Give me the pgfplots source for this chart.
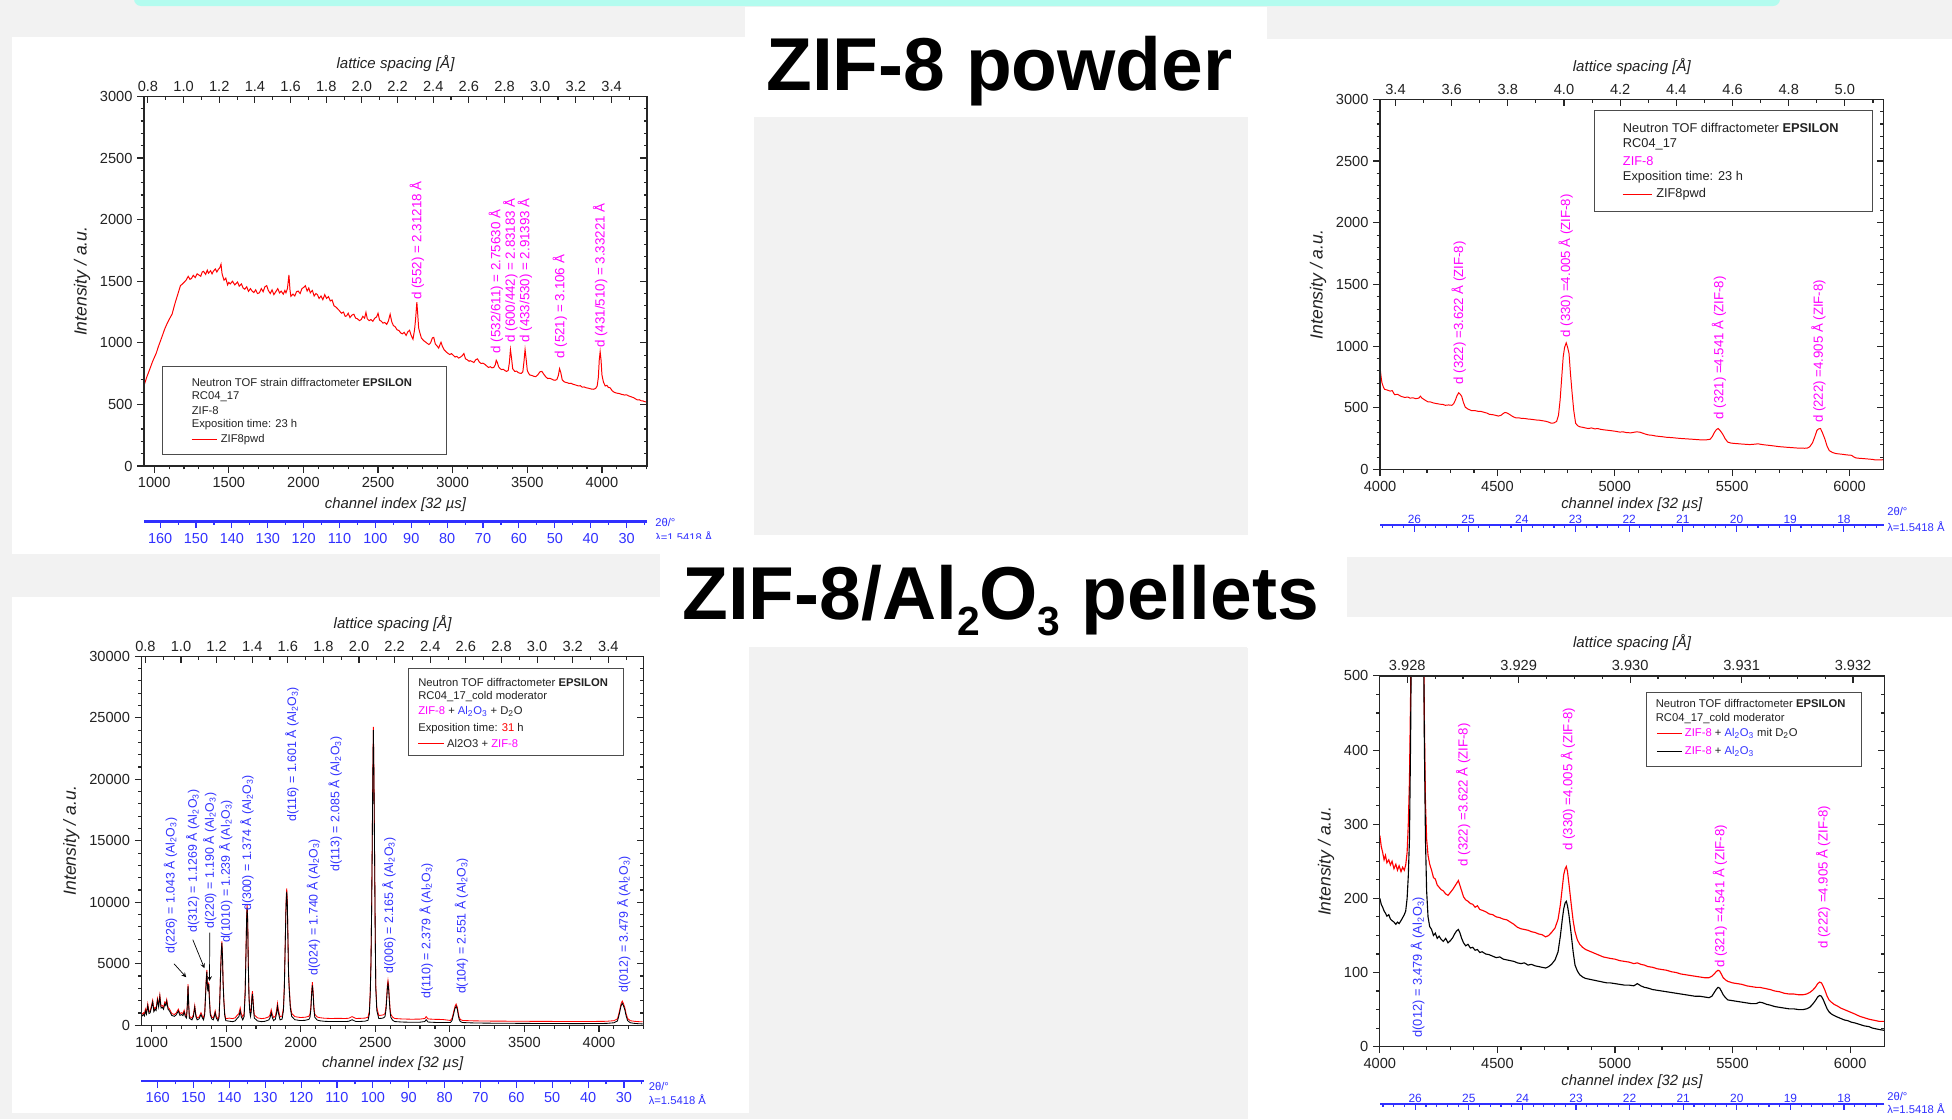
\documentclass[border=0pt]{standalone}
\usepackage{fontspec}
\setmainfont{Liberation Sans}
\usepackage{pgfplots}
\pgfplotsset{compat=1.18}
\usepackage{pgfplotstable}

\definecolor{bggray}{HTML}{F2F2F2}
\definecolor{cyanbar}{HTML}{B3FCEF}
\definecolor{mag}{HTML}{FF00FF}
\definecolor{annblue}{HTML}{3333FF}
\definecolor{axblue}{HTML}{3030FF}
\definecolor{txt}{HTML}{222222}

\newcommand\fsz[1]{\fontsize{#1pt}{#1pt}\selectfont}
\newcommand\alo{Al\textsubscript{2}O\textsubscript{3}}

\pgfplotsset{
  mainax/.style={scale only axis, xtick pos=left, ytick pos=left, tick align=outside,
    axis line style={black!85, line width=0.9pt},
    tick style={black!85, line width=0.8pt},
    major tick length=4.7pt, minor tick length=2.4pt,
    tick label style={font=\fsz{10.4}, text=txt},
    xlabel style={font=\fsz{10.6}\itshape, text=txt},
    ylabel style={font=\fsz{12.5}\itshape, text=txt},
    /pgf/number format/assume math mode=true,
    /pgf/number format/1000 sep={},
    scaled ticks=false, minor x tick num=4},
  topax/.style={scale only axis, xtick pos=right, ytick pos=right, tick align=inside,
    xticklabel pos=right, yticklabels={}, scaled ticks=false,
    axis line style={black!85, line width=0.9pt},
    tick style={black!85, line width=0.8pt},
    major tick length=4.7pt, minor tick length=2.4pt,
    tick label style={font=\fsz{10.4}, text=txt},
    xlabel style={font=\fsz{10.7}\itshape, text=txt},
    /pgf/number format/assume math mode=true},
  ttax/.style={scale only axis, height=1mm, hide y axis, x dir=reverse, ymin=0, ymax=1,
    axis line style={axblue, line width=1.6pt},
    tick style={axblue, line width=0.8pt},
    major tick length=4.8pt, minor tick length=2.4pt,
    tick label style={text=axblue},
    /pgf/number format/assume math mode=true},
  ttbot/.style={ttax, axis x line*=bottom, xtick pos=left, xticklabel pos=left, tick align=outside},
  tttop/.style={ttax, axis x line*=top, xtick pos=right, xticklabel pos=right, tick align=inside,
    xticklabel style={yshift=-2.5pt}},
}
\tikzset{
  ann/.style={rotate=90, anchor=west, inner sep=0pt},
  leg/.style={anchor=west, inner sep=0pt, text=txt},
}

\begin{document}

\pgfplotstableread{
x y
932 652
950 720
974 797
990 850
1013 913
1030 975
1055 1058
1070 1110
1088 1160
1105 1200
1120 1232
1135 1300
1143 1334
1160 1400
1176 1464
1190 1478
1202 1493
1215 1510
1228 1540
1240 1515
1250 1522
1262 1548
1275 1530
1288 1560
1299 1551
1312 1540
1322 1575
1331 1580
1345 1555
1356 1590
1364 1565
1378 1585
1388 1560
1396 1580
1410 1600
1420 1575
1429 1594
1440 1610
1448 1638
1455 1560
1468 1508
1480 1525
1492 1470
1500 1490
1510 1478
1525 1500
1540 1470
1559 1493
1570 1460
1585 1478
1596 1445
1607 1435
1620 1455
1632 1418
1645 1440
1656 1420
1668 1408
1680 1430
1692 1400
1705 1406
1718 1440
1730 1415
1742 1455
1754 1464
1765 1425
1778 1400
1790 1430
1802 1391
1815 1415
1828 1440
1840 1405
1851 1420
1865 1395
1876 1425
1883 1406
1893 1440
1903 1551
1910 1430
1916 1377
1930 1395
1942 1380
1954 1415
1965 1420
1978 1400
1990 1440
2002 1450
2013 1464
2025 1420
2036 1445
2046 1406
2060 1425
2072 1380
2084 1400
2094 1391
2105 1360
2118 1380
2130 1350
2143 1391
2155 1360
2168 1375
2180 1340
2192 1348
2205 1300
2218 1290
2230 1275
2241 1261
2255 1240
2268 1250
2280 1215
2289 1218
2300 1240
2312 1205
2325 1225
2338 1232
2350 1200
2362 1195
2375 1180
2387 1189
2398 1215
2410 1200
2419 1247
2428 1195
2440 1180
2452 1189
2465 1175
2478 1200
2490 1210
2500 1240
2510 1185
2522 1175
2533 1160
2545 1165
2558 1150
2570 1180
2581 1232
2592 1170
2603 1140
2614 1131
2628 1105
2640 1100
2652 1080
2663 1073
2675 1085
2688 1060
2700 1090
2711 1102
2722 1060
2734 1029
2745 1110
2752 1200
2760 1330
2766 1230
2772 1120
2779 1087
2790 1040
2800 1025
2808 1015
2820 1005
2830 995
2841 986
2852 1000
2864 1040
2873 1044
2884 990
2895 975
2906 957
2915 985
2922 1005
2930 975
2942 945
2955 928
2968 915
2980 905
2992 912
3004 899
3016 885
3028 890
3040 876
3052 884
3064 895
3075 913
3086 870
3098 862
3110 850
3117 855
3130 848
3142 840
3154 862
3166 870
3178 845
3190 832
3202 835
3215 826
3228 812
3240 800
3252 806
3263 797
3275 800
3285 820
3292 858
3298 845
3308 805
3318 790
3328 783
3340 785
3350 775
3361 768
3372 775
3380 840
3387 945
3394 880
3402 790
3416 768
3428 770
3440 758
3448 754
3460 752
3470 765
3477 840
3485 945
3492 870
3500 775
3510 750
3517 739
3530 735
3545 728
3556 725
3570 740
3585 765
3598 768
3610 745
3625 722
3637 710
3650 712
3665 705
3676 698
3686 696
3698 702
3708 735
3716 790
3724 760
3734 700
3745 685
3755 680
3768 676
3780 670
3792 672
3805 664
3818 660
3830 655
3843 650
3855 652
3868 640
3880 642
3895 635
3908 632
3920 628
3932 624
3945 623
3958 630
3968 650
3976 720
3982 860
3988 928
3994 860
4000 740
4010 681
4022 650
4033 655
4043 638
4055 635
4068 612
4080 600
4092 594
4105 590
4118 588
4130 582
4140 580
4152 576
4165 578
4177 570
4189 565
4200 560
4212 555
4225 545
4238 536
4250 538
4262 530
4275 528
4288 522
4302 520
}\tldata

\pgfplotstableread{
x y
4000 830
4004 760
4008 705
4014 670
4019 651
4030 645
4043 636
4052 640
4062 607
4075 610
4090 593
4105 585
4118 588
4128 579
4140 582
4152 575
4165 579
4172 595
4178 580
4190 565
4203 550
4215 548
4228 540
4241 535
4255 530
4268 528
4278 521
4292 524
4306 521
4314 535
4321 564
4328 600
4335 622
4342 610
4348 593
4355 545
4363 506
4375 490
4391 477
4405 478
4418 472
4429 472
4442 465
4455 458
4466 448
4480 445
4492 440
4504 434
4515 440
4525 455
4532 463
4540 460
4551 448
4565 430
4579 419
4590 420
4603 415
4617 414
4630 410
4642 408
4654 405
4666 402
4680 400
4692 396
4705 392
4718 385
4729 376
4740 378
4752 390
4760 440
4767 564
4774 750
4780 911
4786 990
4793 1027
4799 990
4805 940
4811 780
4818 622
4825 480
4833 376
4842 355
4851 347
4865 342
4878 336
4889 333
4900 338
4915 330
4927 333
4940 326
4955 322
4974 318
4990 314
5005 310
5021 304
5035 306
5050 300
5068 298
5080 302
5092 306
5105 304
5118 296
5130 288
5143 281
5160 278
5175 272
5190 269
5205 266
5220 262
5237 260
5250 258
5265 255
5284 252
5300 250
5315 248
5331 246
5345 244
5360 242
5378 240
5392 242
5406 246
5416 270
5425 304
5433 325
5440 333
5448 318
5459 289
5470 250
5481 223
5495 215
5510 212
5519 211
5535 208
5550 206
5565 204
5575 203
5590 205
5605 208
5613 208
5625 204
5640 200
5655 197
5669 194
5685 190
5700 186
5715 184
5726 182
5740 180
5755 178
5770 176
5782 174
5795 175
5808 173
5820 174
5830 185
5842 217
5852 268
5861 318
5868 330
5876 333
5884 300
5895 246
5904 190
5914 153
5928 138
5942 130
5956 127
5970 124
5985 120
5995 118
6008 116
6018 103
6026 95
6040 92
6055 90
6073 87
6090 84
6100 82
6111 78
6125 80
6135 79
6145 81
}\trdata

\pgfplotstableread{
x k r
932 700 850
945 870 1020
952 760 910
958 1160 1310
965 900 1050
974 1594 1744
982 950 1100
990 1015 1165
998 1400 1550
1007 1884 2034
1015 1100 1250
1023 1305 1455
1030 1200 1350
1039 2029 2179
1047 1500 1650
1055 2319 2469
1063 1400 1550
1072 1450 1600
1080 1300 1450
1088 1739 1889
1095 1600 1750
1101 1942 2092
1110 1300 1450
1120 1160 1310
1135 800 950
1153 725 875
1165 850 1000
1179 1160 1310
1190 800 950
1201 870 1020
1210 780 930
1218 1073 1223
1226 700 850
1234 580 730
1239 1500 1650
1244 3189 3339
1249 1500 1650
1253 580 730
1262 500 650
1270 435 585
1280 700 850
1289 1450 1600
1297 700 850
1305 435 585
1318 520 670
1331 870 1020
1340 600 750
1348 435 585
1356 900 1050
1362 2500 2650
1366 3600 3750
1370 4349 4499
1374 3200 3350
1377 2754 2904
1380 3100 3250
1383 3334 3484
1387 2200 2350
1393 870 1020
1403 520 670
1413 435 585
1420 700 850
1426 1015 1165
1433 600 750
1445 348 498
1452 600 750
1457 2000 2150
1463 4500 4650
1468 6100 6250
1471 6668 6818
1475 5600 5750
1479 3500 3650
1484 2000 2150
1490 800 950
1497 377 527
1520 330 580
1542 290 540
1560 350 600
1575 580 830
1585 700 950
1594 1160 1410
1601 700 950
1611 435 685
1620 700 950
1627 2500 2750
1633 6000 6250
1637 8600 8850
1640 9567 9817
1644 8500 8750
1648 5000 5250
1653 2174 2424
1658 1100 1350
1663 725 975
1668 1100 1350
1672 2100 2350
1676 2522 2772
1680 1900 2150
1685 1000 1250
1689 580 830
1710 350 600
1737 290 540
1760 320 570
1786 435 685
1794 600 850
1802 1015 1265
1810 600 850
1818 377 627
1830 500 750
1838 1000 1250
1844 1536 1786
1850 1000 1250
1861 435 685
1875 500 750
1884 1200 1450
1890 3044 3294
1895 6000 6250
1900 9000 9250
1903 10300 10550
1906 10871 11121
1910 9800 10050
1914 7000 7250
1918 4200 4450
1922 3044 3294
1930 1400 1650
1939 725 975
1960 450 700
1997 380 630
2030 400 650
2055 480 730
2062 650 900
2068 1300 1550
2073 2500 2750
2078 3247 3497
2083 2500 2750
2088 1300 1550
2094 650 900
2110 420 670
2130 360 610
2159 320 570
2200 300 550
2250 310 560
2300 300 550
2322 320 570
2344 450 700
2370 300 550
2400 310 560
2430 330 580
2451 400 650
2460 900 1150
2466 2500 2750
2471 5000 5250
2475 9000 9250
2479 14000 14250
2483 20000 20250
2487 24003 24253
2491 20000 20250
2495 14000 14250
2499 8000 8250
2503 3044 3294
2510 1200 1450
2523 550 800
2540 560 810
2555 600 850
2565 700 950
2572 1300 1550
2577 2200 2450
2581 3000 3250
2585 3392 3642
2589 3000 3250
2594 2000 2250
2599 1100 1350
2604 650 900
2615 420 670
2630 300 550
2680 260 510
2744 240 490
2800 250 500
2832 300 550
2841 450 700
2854 260 510
2900 230 480
2950 220 470
3004 220 390
3015 400 570
3026 950 1120
3034 1350 1520
3042 1550 1720
3050 1300 1470
3056 850 1020
3062 500 670
3070 300 470
3085 220 390
3150 190 360
3250 170 340
3393 160 330
3500 150 320
3600 145 315
3700 140 310
3800 135 305
3900 135 305
3978 140 310
4050 150 320
4100 200 370
4124 350 520
4133 750 920
4140 1130 1300
4148 1580 1750
4156 1790 1960
4164 1600 1770
4173 1280 1450
4182 760 930
4192 380 550
4210 200 370
4238 150 320
4270 120 290
4292 110 280
}\bldata

\pgfplotstableread{
x r k
4000 285 200
4006 270 192
4012 262 188
4018 252 183
4024 258 180
4030 248 176
4038 252 178
4045 245 172
4052 250 170
4060 240 168
4068 246 165
4075 238 168
4082 244 166
4090 236 170
4097 242 174
4104 238 178
4110 245 183
4116 262 200
4121 300 230
4126 360 280
4131 480 420
4136 700 650
4142 1100 1050
4150 1600 1550
4160 1800 1750
4170 1600 1550
4178 1100 1050
4184 700 650
4189 450 420
4194 330 280
4199 280 210
4205 258 175
4212 246 162
4220 238 158
4228 228 150
4236 226 153
4244 218 146
4252 215 149
4260 212 145
4270 210 142
4280 206 146
4290 204 140
4300 208 143
4310 212 147
4318 216 152
4326 220 156
4334 224 158
4340 218 154
4348 210 146
4356 202 140
4365 198 136
4375 196 138
4385 193 133
4395 192 134
4405 188 130
4415 190 131
4425 185 127
4435 184 128
4450 182 125
4465 179 124
4480 178 122
4495 175 120
4510 174 121
4525 172 118
4540 171 117
4555 168 116
4570 165 115
4585 161 113
4600 159 112
4615 158 113
4630 157 110
4645 155 111
4660 154 109
4675 152 108
4690 151 107
4705 148 106
4718 150 108
4730 154 111
4745 160 117
4758 172 128
4768 192 150
4776 215 172
4782 232 186
4788 240 194
4793 243 196
4798 236 190
4804 220 178
4810 203 162
4816 186 145
4822 170 128
4830 155 110
4840 144 102
4850 138 97
4862 134 94
4875 131 92
4890 129 91
4905 127 90
4920 125 89
4935 123 88
4950 121 87
4965 120 86
4980 119 86
5000 118 85
5020 116 84
5040 115 83
5060 114 83
5080 112 82
5095 113 85
5110 111 82
5125 110 80
5140 108 79
5160 107 77
5180 105 76
5200 104 75
5220 103 74
5240 101 73
5260 100 72
5280 98 71
5300 97 70
5320 96 69
5340 95 68
5360 94 68
5380 93 67
5400 93 66
5412 95 68
5422 98 73
5430 101 77
5438 103 80
5445 102 79
5452 98 75
5460 93 70
5470 90 66
5480 88 63
5500 86 62
5520 85 61
5540 84 60
5560 82 59
5580 81 58
5600 80 58
5615 80 60
5630 79 59
5645 78 57
5660 77 56
5680 75 54
5700 74 53
5720 72 52
5740 71 51
5760 71 51
5780 70 50
5800 70 50
5815 71 51
5828 73 53
5840 76 57
5852 80 62
5862 85 67
5870 87 69
5878 86 68
5886 81 63
5894 75 57
5902 68 51
5910 63 47
5920 60 44
5932 57 42
5945 55 40
5960 52 38
5975 50 36
5990 48 35
6005 46 33
6020 44 32
6040 41 30
6060 39 28
6080 37 27
6095 36 25
6110 35 24
6125 34 23
6145 34 22
}\brdata

\begin{tikzpicture}[x=0.25mm, y=-0.25mm]
\useasboundingbox (0,0) rectangle (1952,1119);
% slide background and panels
\fill[bggray] (0,0) rectangle (1952,1119);
\fill[white] (12,37) rectangle (745,554);
\fill[white] (745,7) rectangle (1267,554);
\fill[white] (1267,39) rectangle (1952,557);
\fill[white] (660,535) rectangle (1347,647);
\fill[white] (1247,535) rectangle (1347,1119);
\fill[white] (1347,617) rectangle (1952,1119);
\fill[white] (12,597) rectangle (749,1113);
\fill[bggray] (754,117) rectangle (1248,535);
\fill[bggray] (749,648) rectangle (1248,1119);
\fill[cyanbar, rounded corners=5pt] (134,-20) rectangle (1780,6);

% titles
\node[anchor=base west, inner sep=0pt, font=\fsz{53.3}\bfseries] at (766,90.6) {ZIF-8 powder};
\node[anchor=base west, inner sep=0pt, font=\fsz{53.3}\bfseries] at (682,619.4)
  {ZIF-8/Al\raisebox{-11.4pt}{\fsz{29}2}O\raisebox{-11.4pt}{\fsz{29}3} pellets};

% ---------- top left: ZIF-8 powder, wide range ----------
\begin{axis}[mainax, at={(36mm,-116.5mm)}, width=125.75mm, height=92.4mm,
  xmin=932, xmax=4302, ymin=0, ymax=3000,
  xtick distance=500, ytick distance=500, minor y tick num=4,
  xlabel={channel index [32 µs]}, ylabel={Intensity / a.u.}]
  \addplot[red, line width=0.7pt] table[x=x, y=y] {\tldata};
  \begin{scope}[every node/.style={ann, text=mag, font=\fsz{9.5}}]
    \node at (axis cs:2760,1348) {d (552) = 2.31218 Å};
    \node at (axis cs:3289,913) {d (532/611) = 2.75630 Å};
    \node at (axis cs:3387,1000) {d (600/442) = 2.83183 Å};
    \node at (axis cs:3484,1000) {d (433/530) = 2.91393 Å};
    \node at (axis cs:3718,870) {d (521) = 3.106 Å};
    \node at (axis cs:3988,957) {d (431/510) = 3.33221 Å};
  \end{scope}
\end{axis}
\begin{axis}[topax, at={(36mm,-116.5mm)}, width=125.75mm, height=92.4mm,
  xmin=0.778, xmax=3.599, ymin=0, ymax=3000,
  xtick distance=0.2, minor x tick num=1, ytick distance=500, minor y tick num=4,
  xlabel={lattice spacing [Å]},
  xticklabel style={/pgf/number format/.cd, fixed, fixed zerofill, precision=1}]
\end{axis}
\begin{axis}[ttbot, at={(36mm,-130.35mm)}, width=125.75mm,
  xmin=24.3, xmax=164.5, xtick distance=10, minor x tick num=1,
  tick label style={font=\fsz{10.3}}]
\end{axis}
\begin{scope}
  \clip (640,500) rectangle (745,538);
  \node[anchor=west, inner sep=0pt, text=axblue, font=\fsz{8}] at (655,522) {2θ/°};
  \node[anchor=west, inner sep=0pt, text=axblue, font=\fsz{8}] at (655,537) {λ=1.5418 Å};
\end{scope}
\draw[black!70, line width=0.6pt] (162.4,366) rectangle (446.9,454.6);
\begin{scope}[every node/.style={leg, font=\fsz{8}}]
  \node at (191.5,382.8) {Neutron TOF strain diffractometer \textbf{EPSILON}};
  \node at (191.5,396.4) {RC04\_17};
  \node at (191.5,410.7) {ZIF-8};
  \node at (191.5,425) {Exposition time: 23 h};
  \node at (220.5,439.2) {ZIF8pwd};
\end{scope}
\draw[red, line width=0.7pt] (191.5,439.2) -- (216.7,439.2);

% ---------- top right: ZIF-8 powder, long d ----------
\begin{axis}[mainax, at={(345mm,-117.4mm)}, width=125.9mm, height=92.575mm,
  xmin=4000, xmax=6145, ymin=0, ymax=3000,
  xtick distance=500, ytick distance=500, minor y tick num=4,
  xlabel={channel index [32 µs]}, ylabel={Intensity / a.u.},
  xlabel style={yshift=2.5pt}]
  \addplot[red, line width=0.7pt] table[x=x, y=y] {\trdata};
  \begin{scope}[every node/.style={ann, text=mag, font=\fsz{9.4}}]
    \node at (axis cs:4335,690) {d (322) =3.622 Å (ZIF-8)};
    \node at (axis cs:4791,1070) {d (330) =4.005 Å (ZIF-8)};
    \node at (axis cs:5444,405) {d (321) =4.541 Å (ZIF-8)};
    \node at (axis cs:5867,377) {d (222) =4.905 Å (ZIF-8)};
  \end{scope}
\end{axis}
\begin{axis}[topax, at={(345mm,-117.4mm)}, width=125.9mm, height=92.575mm,
  xmin=3.345, xmax=5.138, ymin=0, ymax=3000,
  xtick distance=0.2, minor x tick num=1, ytick distance=500, minor y tick num=4,
  xlabel={lattice spacing [Å]},
  xticklabel style={/pgf/number format/.cd, fixed, fixed zerofill, precision=1}]
\end{axis}
\begin{axis}[tttop, anchor=north west, at={(345mm,-131.25mm)}, width=125.9mm,
  xmin=17.26, xmax=26.64, xtick distance=1, minor x tick num=4,
  tick label style={font=\fsz{8.5}}]
\end{axis}
\node[anchor=west, inner sep=0pt, text=axblue, font=\fsz{8}] at (1887,511) {2θ/°};
\node[anchor=west, inner sep=0pt, text=axblue, font=\fsz{8}] at (1887,527) {λ=1.5418 Å};
\draw[black!70, line width=0.6pt] (1594.5,110.7) rectangle (1872.5,211.4);
\begin{scope}[every node/.style={leg, font=\fsz{9.1}}]
  \node at (1622.7,127.8) {Neutron TOF diffractometer \textbf{EPSILON}};
  \node at (1622.7,144.6) {RC04\_17};
  \node[text=mag] at (1622.7,161.4) {ZIF-8};
  \node at (1622.7,177.5) {Exposition time: 23 h};
  \node at (1656,194.6) {ZIF8pwd};
\end{scope}
\draw[red, line width=0.7pt] (1622.7,194.6) -- (1651.9,194.6);

% ---------- bottom left: ZIF-8/Al2O3 pellet, wide range ----------
\begin{axis}[mainax, at={(35.375mm,-256.3mm)}, width=125.55mm, height=92.225mm,
  xmin=932, xmax=4300, ymin=0, ymax=30000,
  xtick distance=500, ytick distance=5000, minor y tick num=4,
  xlabel={channel index [32 µs]}, ylabel={Intensity / a.u.}]
  \addplot[red, line width=0.6pt] table[x=x, y=r] {\bldata};
  \addplot[black, line width=0.6pt] table[x=x, y=k] {\bldata};
  \begin{scope}[every node/.style={ann, text=annblue, font=\fsz{8.8}}]
    \node at (axis cs:1127,5800) {d(226) = 1.043 Å (\alo)};
    \node at (axis cs:1276,7540) {d(312) = 1.1269 Å (\alo)};
    \node at (axis cs:1390,7830) {d(220) = 1.190 Å (\alo)};
    \node at (axis cs:1497,6670) {d(1010) = 1.239 Å (\alo)};
    \node at (axis cs:1640,9280) {d(300) = 1.374 Å (\alo)};
    \node at (axis cs:1942,16520) {d(116) = 1.601 Å (\alo)};
    \node at (axis cs:2085,4060) {d(024) = 1.740 Å (\alo)};
    \node at (axis cs:2231,12470) {d(113) = 2.085 Å (\alo)};
    \node at (axis cs:2591,4200) {d(006) = 2.165 Å (\alo)};
    \node at (axis cs:2841,2170) {d(110) = 2.379 Å (\alo)};
    \node at (axis cs:3078,2520) {d(104) = 2.551 Å (\alo)};
    \node at (axis cs:4166,2670) {d(012) = 3.479 Å (\alo)};
  \end{scope}
  \draw[-stealth, black, line width=0.5pt] (axis cs:1150,5000) -- (axis cs:1232,3900);
  \draw[-stealth, black, line width=0.5pt] (axis cs:1276,6958) -- (axis cs:1354,4638);
  \draw[-stealth, black, line width=0.5pt] (axis cs:1390,7537) -- (axis cs:1388,3600);
\end{axis}
\begin{axis}[topax, at={(35.375mm,-256.3mm)}, width=125.55mm, height=92.225mm,
  xmin=0.778, xmax=3.599, ymin=0, ymax=30000,
  xtick distance=0.2, minor x tick num=1, ytick distance=5000, minor y tick num=4,
  xlabel={lattice spacing [Å]},
  xticklabel style={/pgf/number format/.cd, fixed, fixed zerofill, precision=1}]
\end{axis}
\begin{axis}[ttbot, at={(35.375mm,-270.25mm)}, width=125.55mm,
  xmin=24.5, xmax=164.5, xtick distance=10, minor x tick num=1,
  tick label style={font=\fsz{10.3}}]
\end{axis}
\node[anchor=west, inner sep=0pt, text=axblue, font=\fsz{8}] at (648.5,1086) {2θ/°};
\node[anchor=west, inner sep=0pt, text=axblue, font=\fsz{8}] at (648.5,1100) {λ=1.5418 Å};
\draw[black!70, line width=0.6pt] (408.6,668.7) rectangle (623.3,755.4);
\begin{scope}[every node/.style={leg, font=\fsz{8}}]
  \node at (418,682) {Neutron TOF diffractometer \textbf{EPSILON}};
  \node at (418,697) {RC04\_17\_cold moderator};
  \node at (418,711.5) {\textcolor{mag}{ZIF-8} + \textcolor{annblue}{\alo} + D\textsubscript{2}O};
  \node at (418,728.6) {Exposition time: \textcolor{red}{31} h};
  \node at (446.9,743) {Al2O3 + \textcolor{mag}{ZIF-8}};
\end{scope}
\draw[red, line width=0.7pt] (418.3,743) -- (443.5,743);

% ---------- bottom right: ZIF-8/Al2O3 pellet, long d ----------
\begin{axis}[mainax, at={(344.95mm,-261.65mm)}, width=126.1mm, height=92.675mm,
  xmin=4000, xmax=6145, ymin=0, ymax=500,
  xtick distance=500, ytick distance=100, minor y tick num=3,
  xlabel={channel index [32 µs]}, ylabel={Intensity / a.u.},
  xlabel style={yshift=2.5pt}]
  \addplot[red, line width=0.8pt] table[x=x, y=r] {\brdata};
  \addplot[black, line width=0.8pt] table[x=x, y=k] {\brdata};
  \begin{scope}[every node/.style={ann, text=mag, font=\fsz{9.4}}]
    \node at (axis cs:4355,243) {d (322) =3.622 Å (ZIF-8)};
    \node at (axis cs:4800,264) {d (330) =4.005 Å (ZIF-8)};
    \node at (axis cs:5446,106) {d (321) =4.541 Å (ZIF-8)};
    \node at (axis cs:5885,132) {d (222) =4.905 Å (ZIF-8)};
  \end{scope}
  \node[ann, text=annblue, font=\fsz{9.1}] at (axis cs:4161,12) {d(012) = 3.479 Å (\alo)};
\end{axis}
\begin{axis}[topax, at={(344.95mm,-261.65mm)}, width=126.1mm, height=92.675mm,
  xmin=-0.246, xmax=4.28, ymin=0, ymax=500,
  xtick={0,1,2,3,4}, xticklabels={3.928,3.929,3.930,3.931,3.932}, minor x tick num=3,
  ytick distance=100, minor y tick num=3,
  xlabel={lattice spacing [Å]}]
\end{axis}
\begin{axis}[tttop, anchor=north west, at={(344.95mm,-275.9mm)}, width=126.1mm,
  xmin=17.25, xmax=26.66, xtick distance=1, minor x tick num=4,
  tick label style={font=\fsz{8.5}}]
\end{axis}
\node[anchor=west, inner sep=0pt, text=axblue, font=\fsz{8}] at (1887,1096.5) {2θ/°};
\node[anchor=west, inner sep=0pt, text=axblue, font=\fsz{8}] at (1887,1109) {λ=1.5418 Å};
\draw[black!70, line width=0.6pt] (1646,692) rectangle (1861,766);
\begin{scope}[every node/.style={leg, font=\fsz{8}}]
  \node at (1655.5,703.7) {Neutron TOF diffractometer \textbf{EPSILON}};
  \node at (1655.5,718.6) {RC04\_17\_cold moderator};
  \node at (1684.6,733) {\textcolor{mag}{ZIF-8} + \textcolor{annblue}{\alo} mit D\textsubscript{2}O};
  \node at (1684.6,751) {\textcolor{mag}{ZIF-8} + \textcolor{annblue}{\alo}};
\end{scope}
\draw[red, line width=0.7pt] (1656.8,733) -- (1681.7,733);
\draw[black, line width=0.7pt] (1656.8,751) -- (1681.7,751);
\end{tikzpicture}
\end{document}
